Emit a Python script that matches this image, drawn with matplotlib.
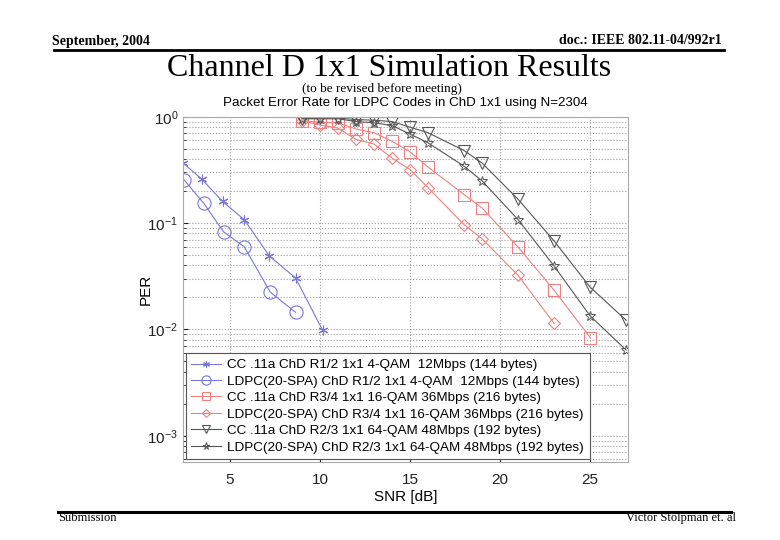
import numpy as np
import matplotlib.pyplot as plt

# SNR points [dB]
snr_cc_qpsk = [2.4, 3.45, 4.6, 5.8, 7.2, 8.65, 10.15]
per_cc_qpsk = [0.369, 0.259, 0.160, 0.108, 0.049, 0.0305, 0.00985]

snr_ldpc_qpsk = [2.45, 3.55, 4.65, 5.8, 7.25, 8.65]
per_ldpc_qpsk = [0.257, 0.154, 0.083, 0.060, 0.0224, 0.0145]

snr_cc_16 = [9, 10, 11, 12, 13, 14, 15, 16, 18, 19, 21, 23, 25]
per_cc_16 = [0.92, 0.89, 0.88, 0.77, 0.71, 0.59, 0.47, 0.338, 0.186, 0.139, 0.0596, 0.0234, 0.0084]

snr_ldpc_16 = [9, 10, 11, 12, 13, 14, 15, 16, 18, 19, 21, 23]
per_ldpc_16 = [0.92, 0.84, 0.785, 0.614, 0.556, 0.41, 0.32, 0.216, 0.097, 0.0714, 0.0323, 0.0114]

snr_cc_64 = [9, 10, 11, 12, 13, 14, 15, 16, 18, 19, 21, 23, 25, 27]
per_cc_64 = [0.96, 0.975, 0.975, 0.945, 0.93, 0.905, 0.80, 0.71, 0.483, 0.368, 0.168, 0.068, 0.025, 0.0122]

snr_ldpc_64 = [9, 10, 11, 12, 13, 14, 15, 16, 18, 19, 21, 23, 25, 27]
per_ldpc_64 = [0.96, 0.96, 0.96, 0.905, 0.88, 0.83, 0.69, 0.57, 0.344, 0.25, 0.108, 0.0395, 0.0134, 0.0064]

labels = [
    'CC .11a ChD R1/2 1x1 4-QAM  12Mbps (144 bytes)',
    'LDPC(20-SPA) ChD R1/2 1x1 4-QAM  12Mbps (144 bytes)',
    'CC .11a ChD R3/4 1x1 16-QAM 36Mbps (216 bytes)',
    'LDPC(20-SPA) ChD R3/4 1x1 16-QAM 36Mbps (216 bytes)',
    'CC .11a ChD R2/3 1x1 64-QAM 48Mbps (192 bytes)',
    'LDPC(20-SPA) ChD R2/3 1x1 64-QAM 48Mbps (192 bytes)',
]

blue = '#7878d8'
red = '#f08080'
gray = '#555555'

plt.rcParams['font.family'] = ['Liberation Sans', 'DejaVu Sans']
plt.rcParams['mathtext.fontset'] = 'custom'
plt.rcParams['mathtext.rm'] = 'Liberation Sans'
plt.rcParams['mathtext.it'] = 'Liberation Sans'
plt.rcParams['mathtext.bf'] = 'Liberation Sans:bold'

fig = plt.figure(figsize=(7.8, 5.4), dpi=100)
ax = fig.add_axes([0.2346, 0.145, 0.5705, 0.6385])

lw = 0.8
ax.plot(snr_cc_qpsk, per_cc_qpsk, color=blue, lw=lw, marker=(6, 2, 0), ms=7, mew=0.8, label=labels[0])
ax.plot(snr_ldpc_qpsk, per_ldpc_qpsk, color=blue, lw=lw, marker='o', ms=9.5, mfc='none', mew=0.8, label=labels[1])
ax.plot(snr_cc_16, per_cc_16, color=red, lw=lw, marker='s', ms=8.5, mfc='none', mew=0.8, label=labels[2])
ax.plot(snr_ldpc_16, per_ldpc_16, color=red, lw=lw, marker='D', ms=6.5, mfc='none', mew=0.8, label=labels[3])
ax.plot(snr_cc_64, per_cc_64, color=gray, lw=lw, marker='v', ms=8, mfc='none', mew=0.8, label=labels[4])
ax.plot(snr_ldpc_64, per_ldpc_64, color=gray, lw=lw, marker='*', ms=7.5, mfc='none', mew=0.7, label=labels[5])

ax.set_yscale('log')
ax.set_xlim(2.4, 27.1)
ax.set_ylim(5.7e-4, 1)
ax.set_xticks([5, 10, 15, 20, 25])
ax.grid(True, which='major', axis='x', color='#a0a0a0', ls=':', lw=0.8)
ax.grid(True, which='both', axis='y', color='#a0a0a0', ls=':', lw=0.8)
ax.tick_params(axis='both', which='both', direction='in', labelsize=11, colors='#222222')
ax.tick_params(axis='x', which='major', pad=8)
ax.tick_params(axis='x', which='minor', bottom=False)
for s in ax.spines.values():
    s.set_color('#aaaaaa')
    s.set_linewidth(0.8)

ax.set_xlabel('SNR [dB]', fontsize=11, labelpad=2)
ax.set_ylabel('PER', fontsize=11, labelpad=-4)
ax.set_title('Packet Error Rate for LDPC Codes in ChD 1x1 using N=2304', fontsize=9.6, pad=8)

leg = ax.legend(loc='lower left', fontsize=9.7, fancybox=False, framealpha=1,
                borderaxespad=0.2, handlelength=2.2, labelspacing=0.3,
                borderpad=0.4, handletextpad=0.5, markerscale=0.7)
leg.get_frame().set_edgecolor('#555555')
leg.get_frame().set_linewidth(0.8)

# slide header and footer
serif = ['Liberation Serif', 'DejaVu Serif']
fig.text(52 / 780, 1 - 41 / 540, 'September, 2004', family=serif, fontsize=10,
         weight='bold', ha='left', va='center')
fig.text(722 / 780, 1 - 41 / 540, 'doc.: IEEE 802.11-04/992r1', family=serif, fontsize=10,
         weight='bold', ha='right', va='center')
fig.add_artist(plt.Line2D([54 / 780, 724 / 780], [1 - 50 / 540] * 2, color='black', lw=2))
fig.text(389 / 780, 1 - 68 / 540, 'Channel D 1x1 Simulation Results', family=serif,
         fontsize=23, ha='center', va='center')
fig.text(382 / 780, 1 - 89 / 540, '(to be revised before meeting)', family=serif,
         fontsize=9.5, ha='center', va='center')
fig.add_artist(plt.Line2D([58 / 780, 731 / 780], [1 - 512 / 540] * 2, color='black', lw=2.2))
fig.text(58 / 780, 1 - 518 / 540, 'Submission', family=serif, fontsize=9,
         ha='left', va='center')
fig.text(736 / 780, 1 - 518 / 540, 'Victor Stolpman et. al', family=serif, fontsize=9,
         ha='right', va='center')

fig.savefig('out.png', dpi=100)
